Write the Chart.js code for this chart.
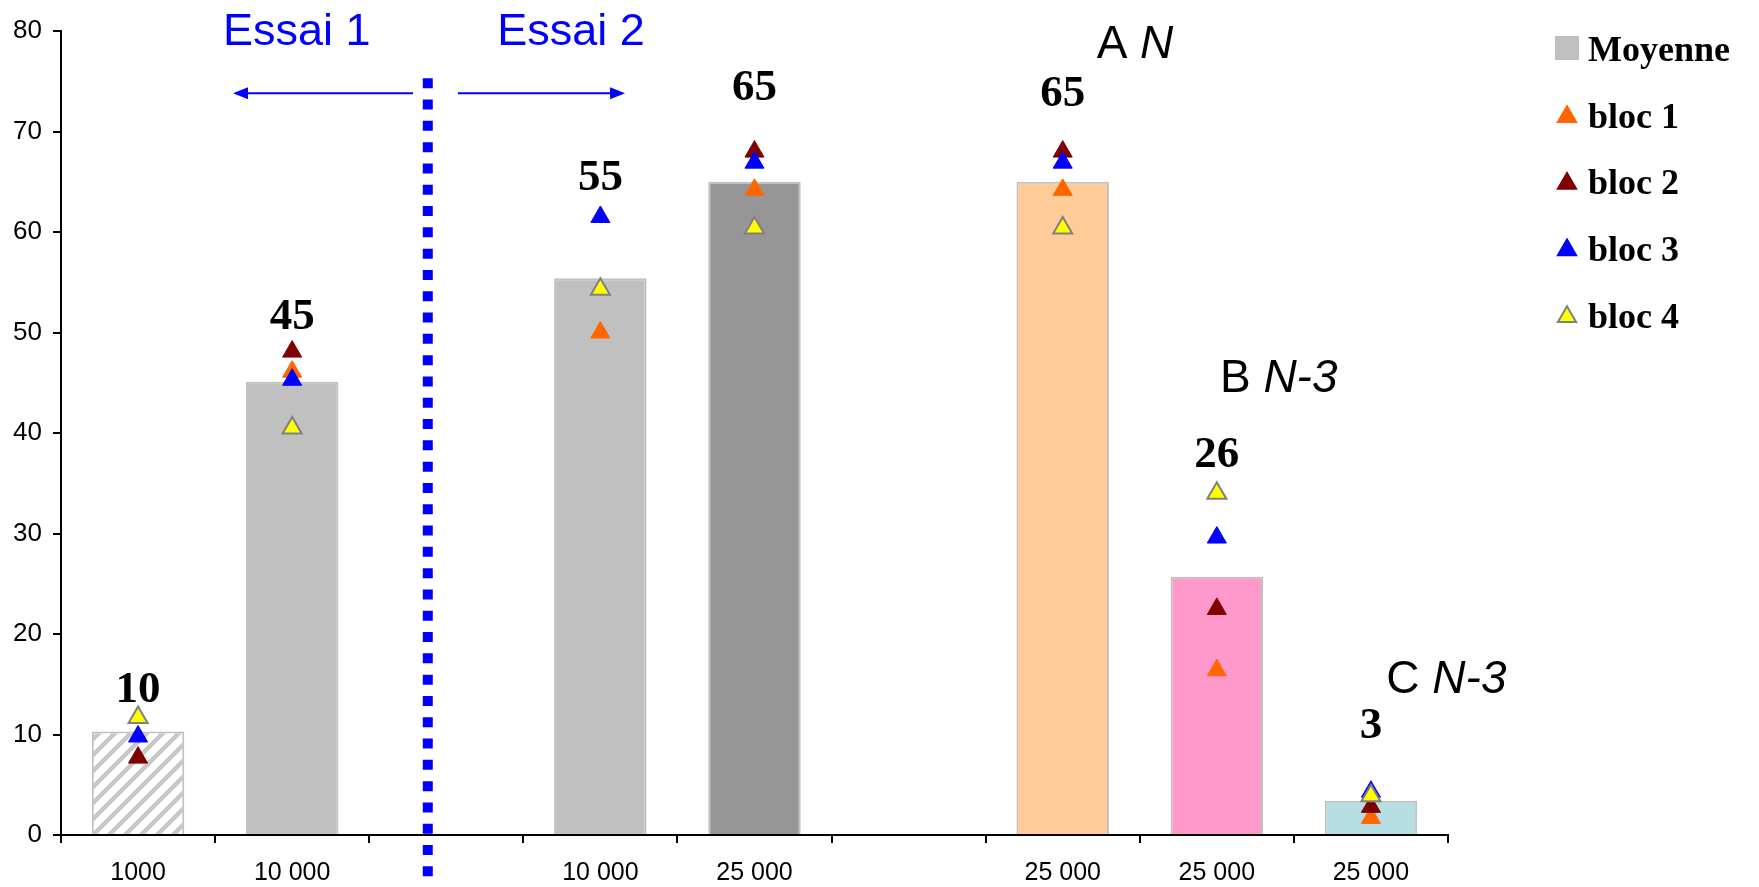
<!DOCTYPE html>
<html>
<head>
<meta charset="utf-8">
<script src="https://cdn.jsdelivr.net/npm/chart.js@4.4.0/dist/chart.umd.min.js"></script>
<style>
    html, body { margin: 0; padding: 0; background: #ffffff; }
    #wrap { width: 1759px; height: 887px; }
</style>
</head>
<body>
<div id="wrap"><canvas id="chart" width="1759" height="887"></canvas></div>
<script>
// categories (empty slots are gaps between the groups)
const categories = ['1000', '10 000', '', '10 000', '25 000', '', '25 000', '25 000', '25 000'];

// mean and per-block values
const moyenne = [10.3, 45.1, null, 55.4, 65.0, null, 65.0, 25.7, 3.4];
const bloc1 = [null, 46.1, null, 50.0, 64.2, null, 64.2, 16.4, 1.7];
const bloc2 = [7.7, 48.1, null, null, 68.0, null, 68.0, 22.5, 2.8];
const bloc3 = [9.8, 45.3, null, 61.5, 66.9, null, 66.9, 29.6, 4.3];
const bloc4 = [11.7, 40.5, null, 54.3, 60.4, null, 60.4, 34.0, 3.9];

// height (in axis units) where each rounded mean is written
const labelLevels = [13.2, 50.3, null, 64.2, 73.1, null, 72.5, 36.6, 9.7];

const yMin = 0;
const yMax = 80;
const yStep = 10;

const SANS = "'Liberation Sans', Arial, sans-serif";
const SERIF = "'Liberation Serif', 'Times New Roman', serif";

function makeHatch() {
    const c = document.createElement('canvas');
    c.width = 16;
    c.height = 16;
    const g = c.getContext('2d');
    g.fillStyle = '#ffffff';
    g.fillRect(0, 0, 16, 16);
    g.strokeStyle = '#c8c8c8';
    g.lineWidth = 4.5;
    g.beginPath();
    g.moveTo(-4, 20); g.lineTo(20, -4);
    g.moveTo(-12, 12); g.lineTo(12, -12);
    g.moveTo(4, 28); g.lineTo(28, 4);
    g.stroke();
    return g.createPattern(c, 'repeat');
}

const ctx = document.getElementById('chart').getContext('2d');

const barColours = [makeHatch(), '#c0c0c0', null, '#c0c0c0', '#969696', null, '#ffcc99', '#ff99cc', '#b7dfe3'];

function pointSet(label, values, fill, border, borderWidth, order) {
    return {
        type: 'line',
        label: label,
        data: values,
        showLine: false,
        pointStyle: 'triangle',
        pointRadius: 11,
        pointHoverRadius: 11,
        pointBackgroundColor: fill,
        pointBorderColor: border,
        pointBorderWidth: borderWidth,
        order: order
    };
}

function drawArrow(c, x1, x2, yy) {
    const dir = x2 > x1 ? 1 : -1;
    c.beginPath();
    c.moveTo(x1, yy);
    c.lineTo(x2 - dir * 12, yy);
    c.stroke();
    c.beginPath();
    c.moveTo(x2, yy);
    c.lineTo(x2 - dir * 15, yy - 6);
    c.lineTo(x2 - dir * 15, yy + 6);
    c.closePath();
    c.fill();
}

function drawParts(c, parts, x, yy, size) {
    let cx = x;
    parts.forEach(function(p) {
        c.font = (p.italic ? 'italic ' : '') + size + 'px ' + SANS;
        c.fillText(p.text, cx, yy);
        cx += c.measureText(p.text).width;
    });
}

const annotationPlugin = {
    id: 'annotations',
    afterDraw: function(chart) {
        const c = chart.ctx;
        const xs = chart.scales.x;
        const ys = chart.scales.y;
        c.save();

        // dotted separator between the two trials
        c.strokeStyle = '#0000ff';
        c.lineWidth = 10;
        c.setLineDash([10, 11.3]);
        const sx = xs.getPixelForValue(1.88);
        c.beginPath();
        c.moveTo(sx, ys.getPixelForValue(75.3));
        c.lineTo(sx, ys.getPixelForValue(-4.3));
        c.stroke();
        c.setLineDash([]);

        // arrows
        c.lineWidth = 2;
        c.fillStyle = '#0000ff';
        const ay = ys.getPixelForValue(73.8);
        drawArrow(c, xs.getPixelForValue(1.784), xs.getPixelForValue(0.616), ay);
        drawArrow(c, xs.getPixelForValue(2.076), xs.getPixelForValue(3.16), ay);

        // trial titles
        c.font = '45px ' + SANS;
        c.textAlign = 'center';
        c.textBaseline = 'alphabetic';
        c.fillText('Essai 1', xs.getPixelForValue(1.03), ys.getPixelForValue(78.6));
        c.fillText('Essai 2', xs.getPixelForValue(2.81), ys.getPixelForValue(78.6));

        // group names
        c.fillStyle = '#000000';
        c.textAlign = 'left';
        drawParts(c, [{ text: 'A ' }, { text: 'N', italic: true }], xs.getPixelForValue(6.22), ys.getPixelForValue(77.3), 46);
        drawParts(c, [{ text: 'B ' }, { text: 'N', italic: true }, { text: '-3', italic: true }], xs.getPixelForValue(7.02), ys.getPixelForValue(44.1), 46);
        drawParts(c, [{ text: 'C ' }, { text: 'N', italic: true }, { text: '-3', italic: true }], xs.getPixelForValue(8.10), ys.getPixelForValue(14.1), 46);

        // rounded means
        c.font = 'bold 45px ' + SERIF;
        c.textAlign = 'center';
        moyenne.forEach(function(v, i) {
            if (v == null || labelLevels[i] == null) return;
            c.fillText(String(Math.round(v)), xs.getPixelForValue(i), ys.getPixelForValue(labelLevels[i]));
        });

        // legend
        const lx = chart.chartArea.right + 119;
        const tx = chart.chartArea.right + 140;
        c.textAlign = 'left';
        c.font = 'bold 36px ' + SERIF;
        chart.data.datasets.forEach(function(ds, i) {
            const base = 61 + i * 66.7;
            const cy = base - 13;
            if (ds.type === 'line') {
                c.fillStyle = ds.pointBackgroundColor;
                c.strokeStyle = ds.pointBorderColor;
                Chart.helpers.drawPoint(c, { pointStyle: 'triangle', radius: 10.5, borderWidth: ds.pointBorderWidth, rotation: 0 }, lx, cy + 2);
            } else {
                c.fillStyle = '#c0c0c0';
                c.fillRect(lx - 12, cy - 12, 24, 24);
            }
            c.fillStyle = '#000000';
            c.fillText(ds.label, tx, base);
        });

        c.restore();
    }
};

new Chart(ctx, {
    type: 'bar',
    data: {
        labels: categories,
        datasets: [
            {
                type: 'bar',
                label: 'Moyenne',
                data: moyenne,
                backgroundColor: barColours,
                borderColor: '#c0c0c0',
                borderWidth: 2,
                borderSkipped: 'start',
                barPercentage: 0.6,
                categoryPercentage: 1,
                order: 5
            },
            pointSet('bloc 1', bloc1, '#ff6600', '#ff6600', 1, 4),
            pointSet('bloc 2', bloc2, '#800000', '#800000', 1, 3),
            pointSet('bloc 3', bloc3, '#0000ff', '#0000ff', 1, 2),
            pointSet('bloc 4', bloc4, '#ffff00', '#808080', 2, 1)
        ]
    },
    options: {
        responsive: false,
        animation: false,
        layout: { padding: { left: 0, right: 311, top: 31, bottom: 0 } },
        plugins: {
            legend: { display: false },
            tooltip: { enabled: false }
        },
        scales: {
            x: {
                offset: true,
                grid: { display: true, drawOnChartArea: false, offset: true, color: '#000000', lineWidth: 2, tickLength: 8 },
                border: { display: true, color: '#000000', width: 2 },
                ticks: { color: '#000000', font: { family: SANS, size: 25 }, padding: 15, maxRotation: 0, autoSkip: false },
                afterFit: function(scale) { scale.height = 52; }
            },
            y: {
                min: yMin,
                max: yMax,
                grid: { drawOnChartArea: false, color: '#000000', lineWidth: 2, tickLength: 8 },
                border: { display: true, color: '#000000', width: 2 },
                ticks: { stepSize: yStep, color: '#000000', font: { family: SANS, size: 26 }, padding: 11 },
                afterFit: function(scale) { scale.width = 61; }
            }
        }
    },
    plugins: [annotationPlugin]
});
</script>
</body>
</html>
